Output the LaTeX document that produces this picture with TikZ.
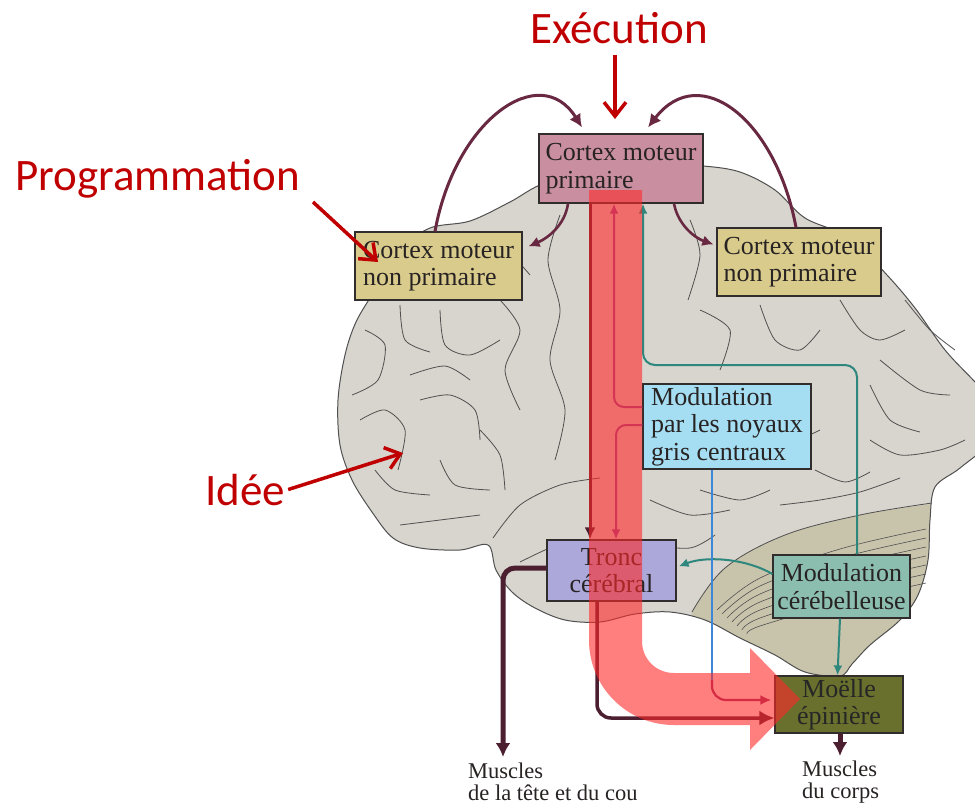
\documentclass[tikz,border=0pt]{standalone}
\usepackage{fontspec}
\setmainfont{Liberation Serif}
\newfontfamily\labelfont{Carlito}
\usetikzlibrary{arrows.meta}
\definecolor{redlab}{RGB}{192,0,0}
\definecolor{primfill}{RGB}{201,143,160}
\definecolor{npfill}{RGB}{217,203,140}
\definecolor{noyfill}{RGB}{165,222,242}
\definecolor{troncfill}{RGB}{172,168,218}
\definecolor{cerfill}{RGB}{140,190,176}
\definecolor{moefill}{RGB}{105,112,45}
\definecolor{brainfill}{RGB}{216,212,206}
\definecolor{stemfill}{RGB}{200,196,172}
\definecolor{gyrus}{RGB}{80,80,80}
\definecolor{maroonc}{RGB}{105,40,65}
\definecolor{darkbr}{RGB}{75,30,48}
\definecolor{purpc}{RGB}{150,70,150}
\definecolor{purpd}{RGB}{150,50,110}
\definecolor{tealc}{RGB}{45,135,125}
\definecolor{bluec}{RGB}{60,135,215}
\definecolor{boxline}{RGB}{50,45,45}
\definecolor{textc}{RGB}{40,35,35}
\definecolor{bandred}{RGB}{255,40,40}
\tikzset{
  box/.style={draw=boxline, line width=1.2pt, inner sep=0pt, text=textc,
    font=\fontsize{26}{27.5}\selectfont},
  gyr/.style={draw=gyrus, line width=0.8pt},
  arcarr/.style={draw=maroonc, line width=3pt, -{Latex[length=13pt,width=13pt]}},
  smallarr/.style={draw=maroonc, line width=2.6pt, -{Latex[length=11pt,width=11pt]}},
  darkarr/.style={draw=darkbr, line width=3pt, -{Latex[length=12pt,width=11pt]}},
  bigarr/.style={draw=darkbr, line width=5pt, -{Latex[length=14pt,width=15pt]}},
  purparr/.style={draw=purpc, line width=2pt, -{Latex[length=10pt,width=9pt]}},
  tealarr/.style={draw=tealc, line width=2pt, -{Latex[length=10pt,width=9pt]}},
  redarr/.style={draw=redlab, line width=3.5pt, -{Straight Barb[length=14pt,width=22pt]}},
  redlabel/.style={text=redlab, inner sep=0pt, font=\labelfont\fontsize{45}{50}\selectfont},
  muscle/.style={text=textc, inner sep=0pt, align=left, font=\fontsize{22.5}{22}\selectfont}
}
\begin{document}
\begin{tikzpicture}[x=1pt,y=-1pt]
\useasboundingbox[fill=white] (0,0) rectangle (975,806);

% ---------- brain ----------
\def\brainoutline{plot[smooth cycle, tension=0.55] coordinates {
 (430,228) (470,221) (510,202) (545,183) (600,172) (660,165) (703,166) (740,172)
 (775,190) (805,218) (850,238) (887,275) (915,308) (945,350) (975,382) (990,400)
 (990,440) (960,468) (935,487) (930,520) (928,560) (918,595) (900,620) (870,645)
 (852,664) (840,676) (805,672) (775,655) (740,638) (705,620) (670,612) (635,614)
 (600,622) (565,620) (535,608) (512,592) (496,570) (488,545) (460,550) (420,548)
 (393,538) (372,512) (352,480) (340,445) (338,400) (345,355) (356,322) (375,290) (400,250)}}
\fill[brainfill] \brainoutline;
\begin{scope}
  \clip \brainoutline;
  \fill[stemfill] plot[smooth, tension=0.6] coordinates {(692,612) (725,568) (785,535) (860,515) (940,503)}
    -- (960,700) -- (680,700) -- cycle;
\end{scope}
\draw[draw=gyrus, line width=1pt] \brainoutline;
\draw[gyr] plot[smooth, tension=0.6] coordinates {(692,612) (725,568) (785,535) (860,515) (932,503)};
\foreach \k in {1,...,7}{
  \draw[gyr, line width=0.6pt] plot[smooth, tension=0.6] coordinates
   {({712+5*\k},{606+4*\k}) ({760},{570+8*\k}) ({840},{540+9*\k}) ({926},{520+9*\k})};
}
% gyri
\draw[gyr] plot[smooth] coordinates {(365,330) (385,345) (378,380) (352,395)};
\draw[gyr] plot[smooth] coordinates {(400,305) (405,340) (430,352)};
\draw[gyr] plot[smooth] coordinates {(440,310) (445,345) (470,355) (500,340)};
\draw[gyr] plot[smooth] coordinates {(360,420) (385,410) (405,430) (398,470)};
\draw[gyr] plot[smooth] coordinates {(410,375) (445,366) (470,380)};
\draw[gyr] plot[smooth] coordinates {(420,400) (450,395) (475,410) (480,440)};
\draw[gyr] plot[smooth] coordinates {(375,470) (395,490) (430,495)};
\draw[gyr] plot[smooth] coordinates {(440,460) (455,485) (490,490)};
\draw[gyr] plot[smooth] coordinates {(400,525) (440,520) (480,515)};
\draw[gyr] plot[smooth] coordinates {(480,430) (500,455) (505,490)};
\draw[gyr] plot[smooth] coordinates {(500,300) (520,330) (505,370) (520,410)};
\draw[gyr] plot[smooth] coordinates {(470,240) (505,250) (530,275)};
\draw[gyr] plot[smooth] coordinates {(560,215) (548,260) (560,310) (550,360) (565,410) (555,460)};
\draw[gyr] plot[smooth] coordinates {(493,538) (520,505) (560,485) (600,478)};
\draw[gyr] plot[smooth] coordinates {(520,562) (545,550) (560,545)};
\draw[gyr] plot[smooth] coordinates {(690,220) (700,255) (688,300)};
\draw[gyr] plot[smooth] coordinates {(700,310) (730,330) (720,370)};
\draw[gyr] plot[smooth] coordinates {(760,305) (775,340) (800,350) (820,330)};
\draw[gyr] plot[smooth] coordinates {(840,300) (860,330) (880,340) (905,330)};
\draw[gyr] plot[smooth] coordinates {(880,360) (920,390) (950,395)};
\draw[gyr] plot[smooth] coordinates {(870,385) (890,420) (920,432)};
\draw[gyr] plot[smooth] coordinates {(870,440) (900,455) (940,450) (965,440)};
\draw[gyr] plot[smooth] coordinates {(760,420) (790,440) (820,430)};
\draw[gyr] plot[smooth] coordinates {(815,470) (845,482) (870,472)};
\draw[gyr] plot[smooth] coordinates {(700,490) (740,500) (770,490)};
\draw[gyr] plot[smooth] coordinates {(780,505) (820,500) (860,492) (900,478)};
\draw[gyr] plot[smooth] coordinates {(650,500) (690,515) (730,510)};
\draw[gyr] plot[smooth] coordinates {(645,545) (690,548) (715,535)};
\draw[gyr] plot[smooth] coordinates {(905,300) (930,330) (955,350)};

% ---------- boxes ----------
\node[box, fill=primfill, minimum width=164pt, minimum height=69pt, align=left]
  (prim) at (621,168.5) {Cortex moteur\\primaire};
\node[box, fill=npfill, minimum width=167pt, minimum height=68pt, align=left]
  (npL) at (438.5,266) {Cortex moteur\\non primaire};
\node[box, fill=npfill, minimum width=164pt, minimum height=68pt, align=left]
  (npR) at (799,262) {Cortex moteur\\non primaire};
\node[box, fill=noyfill, minimum width=168pt, minimum height=85pt, align=left]
  (noy) at (727,426.5) {Modulation\\par les noyaux\\gris centraux};
\node[box, fill=troncfill, minimum width=129pt, minimum height=61pt, align=center]
  (tronc) at (611.5,570.5) {Tronc\\cérébral};
\node[box, fill=cerfill, minimum width=137pt, minimum height=63pt, align=center]
  (cer) at (841.5,586.5) {Modulation\\cérébelleuse};
\node[box, fill=moefill, minimum width=128pt, minimum height=57pt, align=center, text=black!85]
  (moe) at (839,704.5) {Moëlle\\épinière};

\node[muscle, anchor=north west] (mt) at (468,763) {Muscles\\de la tête et du cou};
\node[muscle, anchor=north west] (mc) at (802,761) {Muscles\\du corps};
\coordinate (mtete) at (503,757);
\coordinate (mcorps) at (840,756);

% ---------- connectors ----------
\draw[arcarr] ([xshift=-3.5pt]npL.north) .. controls (455,120) and (540,60) .. ([xshift=-39pt,yshift=6pt]prim.north);
\draw[arcarr] ([xshift=-3pt]npR.north) .. controls (776,120) and (700,60) .. ([xshift=27pt,yshift=6pt]prim.north);
\draw[smallarr] ([xshift=-53pt]prim.south) .. controls (565,225) and (548,238) .. ([xshift=6pt,yshift=-15pt]npL.north east);
\draw[smallarr] ([xshift=53pt]prim.south) .. controls (678,225) and (695,238) .. ([xshift=-3pt,yshift=-17pt]npR.north west);

\draw[darkarr] ([xshift=-31pt]prim.south) -- ([xshift=-21.5pt]tronc.north);
\draw[purparr, rounded corners=10pt] ([yshift=19.5pt]noy.west) -| ([xshift=-7pt]prim.south);
\draw[purparr, rounded corners=10pt] ([yshift=1.5pt]noy.west) -| ([xshift=4.5pt]tronc.north);
\draw[tealarr, rounded corners=12pt] ([xshift=15.5pt]cer.north) |- (750,365) -| ([xshift=22pt]prim.south);
\draw[tealarr] ([yshift=12.5pt]cer.west) .. controls (745,558) and (705,556) .. ([xshift=2pt,yshift=4pt]tronc.east);
\draw[tealarr] ([xshift=-1.5pt]cer.south) -- ([xshift=-1.5pt]moe.north);
\draw[draw=bluec, line width=1.8pt] ([xshift=-15pt]noy.south) -- (712,682);
\draw[draw=purpd, line width=2.2pt, rounded corners=14pt, -{Latex[length=11pt,width=10pt]}, shorten >=3pt]
  (712,680) |- ([yshift=4.5pt]moe.west);
\draw[darkarr, line width=3.5pt, rounded corners=14pt, -{Latex[length=15pt,width=15pt]}]
  ([xshift=-14.5pt]tronc.south) |- ([yshift=-13.5pt]moe.west);
\draw[bigarr, rounded corners=12pt] ([yshift=2.5pt]tronc.west) -| (mtete);
\draw[bigarr] ([xshift=1pt]moe.south) -- (mcorps);

% ---------- red overlay arrow ----------
\fill[bandred, opacity=0.6] (589,190) -- (589,640) .. controls (589,687) and (627,725) .. (674,725)
  -- (750,725) -- (750,750) -- (800,699) -- (750,648) -- (750,673) -- (674,673)
  .. controls (656,673) and (642,659) .. (642,641) -- (642,190) -- cycle;

% ---------- red labels ----------
\node[redlabel, anchor=base] (exec) at (619,43) {Exécution};
\node[redlabel, anchor=base west] (prog) at (15,190) {Programmation};
\node[redlabel, anchor=base west] (idee) at (205,505) {Idée};
\coordinate (execStart) at (615,55);
\coordinate (execTip) at (615,119);
\coordinate (progStart) at (313,202);
\coordinate (progTip) at (378,262);
\coordinate (ideeTip) at (403,453);
\draw[redarr] (execStart) -- (execTip);
\draw[redarr] (progStart) -- (progTip);
\draw[redarr] ([xshift=3pt]idee.east) -- (ideeTip);
\end{tikzpicture}
\end{document}
